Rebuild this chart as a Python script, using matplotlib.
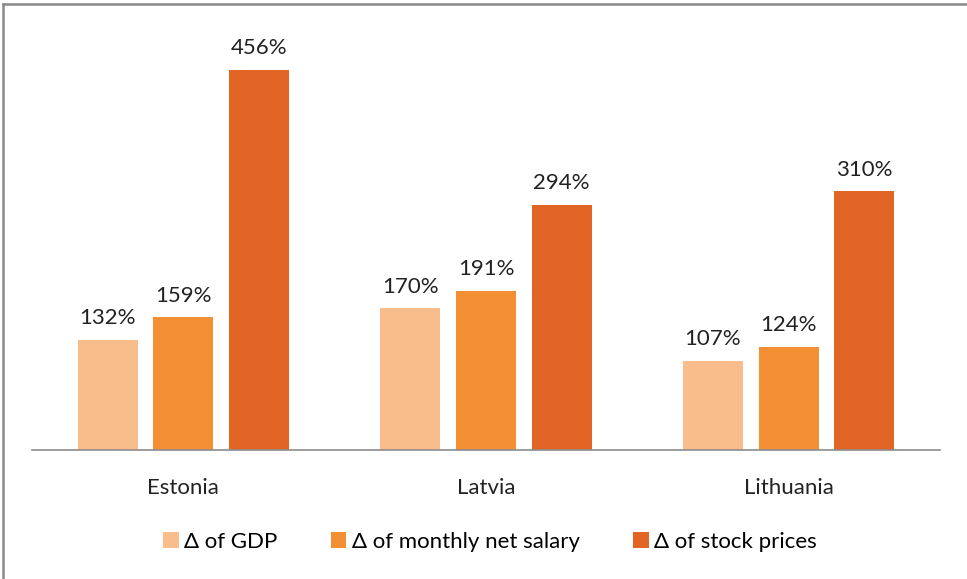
import numpy as np
from matplotlib import pyplot as plt
from matplotlib.lines import Line2D

countries = ["Estonia", "Latvia", "Lithuania"]
series = ["\u0394 of GDP", "\u0394 of monthly net salary", "\u0394 of stock prices"]
gdp = [132, 170, 107]
salary = [159, 191, 124]
stocks = [456, 294, 310]
colors = ["#F9BD8B", "#F58F34", "#E26525"]

plt.rcParams['font.family'] = ['Lato', 'DejaVu Sans']

fig = plt.figure(figsize=(9.67, 5.79), dpi=100)
ax = fig.add_axes([32 / 967, 129 / 579, 908 / 967, 417 / 579])

x = np.arange(len(countries))
w = 0.198
pitch = 0.25
for i, (vals, name) in enumerate(zip([gdp, salary, stocks], series)):
    bars = ax.bar(x + (i - 1) * pitch, vals, w, color=colors[i], label=name)
    for b, v in zip(bars, vals):
        ax.text(b.get_x() + b.get_width() / 2, v + 14, f"{v}%",
                ha="center", va="bottom", fontsize=16, color="#222222")

ax.set_xlim(-0.5, 2.5)
ax.set_ylim(0, 500)
ax.set_yticks([])
ax.set_xticks(x)
ax.set_xticklabels(countries, fontsize=16, color="#222222")
ax.tick_params(axis="x", length=0, pad=20)
for s in ["top", "right", "left"]:
    ax.spines[s].set_visible(False)
ax.spines["bottom"].set_color("#8c8c8c")
ax.spines["bottom"].set_linewidth(1.2)

fig.legend(loc="center", bbox_to_anchor=(490 / 967, 1 - 542 / 579), ncol=3,
           frameon=False, fontsize=16, handlelength=0.7, handleheight=0.7,
           handletextpad=0.25, columnspacing=2.4)

# outer frame (left and top edges visible)
fig.add_artist(Line2D([2.5 / 967, 2.5 / 967], [0, 1 - 4 / 579], transform=fig.transFigure,
                      color="#8a8a8a", lw=1.8))
fig.add_artist(Line2D([2.5 / 967, 1], [1 - 4 / 579, 1 - 4 / 579], transform=fig.transFigure,
                      color="#8a8a8a", lw=1.8))

fig.savefig("out.png", dpi=100)
